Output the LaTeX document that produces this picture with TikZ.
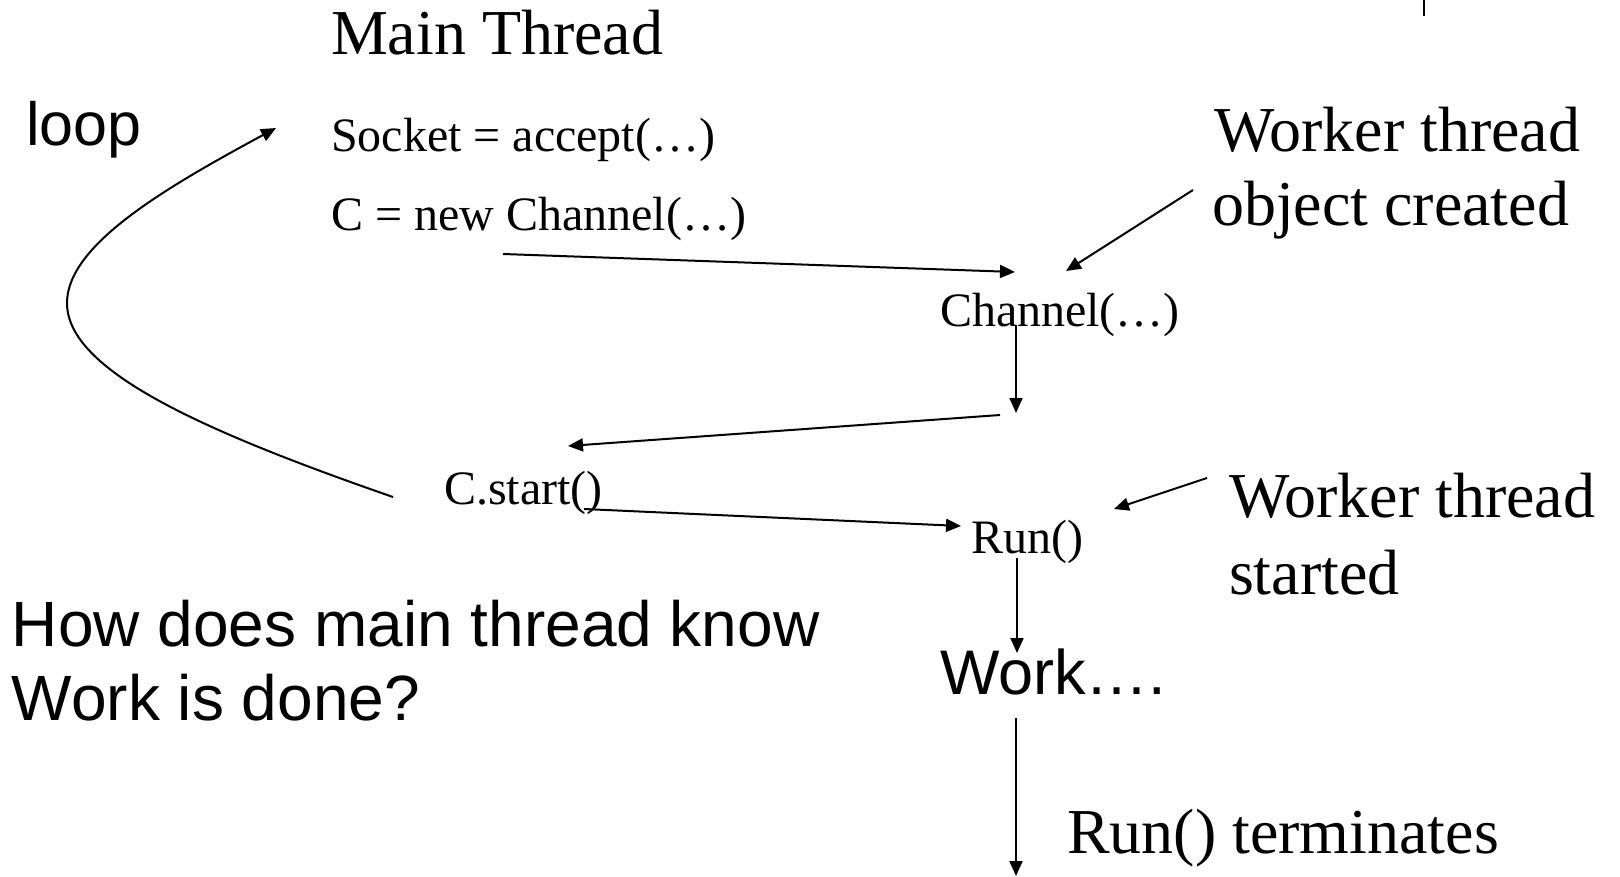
\documentclass[tikz,border=0pt]{standalone}
\usepackage{fontspec}
\setmainfont{Liberation Serif}
\newfontfamily\arialfont{Liberation Sans}
\usetikzlibrary{arrows.meta}
\tikzset{
  lbl/.style={anchor=base west, inner sep=0pt, outer sep=0pt},
  big/.style={lbl, font=\fontsize{64}{74}\selectfont},
  small/.style={lbl, font=\fontsize{48}{56}\selectfont},
  sans/.style={lbl, font=\arialfont\fontsize{63}{74}\selectfont},
  arr/.style={line width=2pt, -{Triangle[length=15pt,width=13pt]}},
  plain/.style={line width=2pt}
}
\begin{document}
\begin{tikzpicture}[x=1pt,y=-1pt]
\useasboundingbox (0,0) rectangle (1620,876);
% text
\node[big] (main) at (331,54) {Main Thread};
\node[sans, font=\arialfont\fontsize{61}{70}\selectfont] (loop) at (26,145) {loop};
\node[small] (sock) at (331,151) {Socket = accept(…)};
\node[small] (newc) at (331,230) {C = new Channel(…)};
\node[big] (wta) at (1214,151) {Worker thread};
\node[big] (wtb) at (1212,225) {object created};
\node[small] (chan) at (940,326) {Channel(…)};
\node[small] (cstart) at (444,504) {C.start()};
\node[small] (run) at (971,553) {Run()};
\node[big] (wsa) at (1229,517) {Worker thread};
\node[big] (wsb) at (1229,594) {started};
\node[sans] (work) at (940,694) {Work….};
\node[big] (term) at (1067,853) {Run() terminates};
\node[sans, font=\arialfont\fontsize{64}{74}\selectfont] (howa) at (12,646) {How does main thread know};
\node[sans, font=\arialfont\fontsize{64}{74}\selectfont] (howb) at (12,720) {Work is done?};
% connector end points
\coordinate (tl1) at (1424,0);
\coordinate (tl2) at (1424,16);
\coordinate (a1s) at (503,254);
\coordinate (a1e) at (1015,272);
\coordinate (a2s) at (1193,190);
\coordinate (a2e) at (1066,271);
\coordinate (a3s) at (1016,325);
\coordinate (a3e) at (1016,413);
\coordinate (a4s) at (1000,415);
\coordinate (a4e) at (568,446);
\coordinate (a5s) at (584,509);
\coordinate (a5e) at (961,526);
\coordinate (a6s) at (1207,478);
\coordinate (a6e) at (1114,509);
\coordinate (a7s) at (1017,558);
\coordinate (a7e) at (1017,653);
\coordinate (a8s) at (1016,718);
\coordinate (a8e) at (1016,876);
\coordinate (ls) at (393,497);
\coordinate (lm) at (67,303);
\coordinate (le) at (276,128);
% connectors
\draw[plain] (tl1) -- (tl2);
\draw[arr] (a1s) -- (a1e);
\draw[arr] (a2s) -- (a2e);
\draw[arr] (a3s) -- (a3e);
\draw[arr] (a4s) -- (a4e);
\draw[arr] (a5s) -- (a5e);
\draw[arr] (a6s) -- (a6e);
\draw[arr] (a7s) -- (a7e);
\draw[arr] (a8s) -- (a8e);
\draw[arr] (ls) .. controls (200,430) and (67,370) .. (lm) .. controls (67,245) and (165,188) .. (le);
\end{tikzpicture}
\end{document}
